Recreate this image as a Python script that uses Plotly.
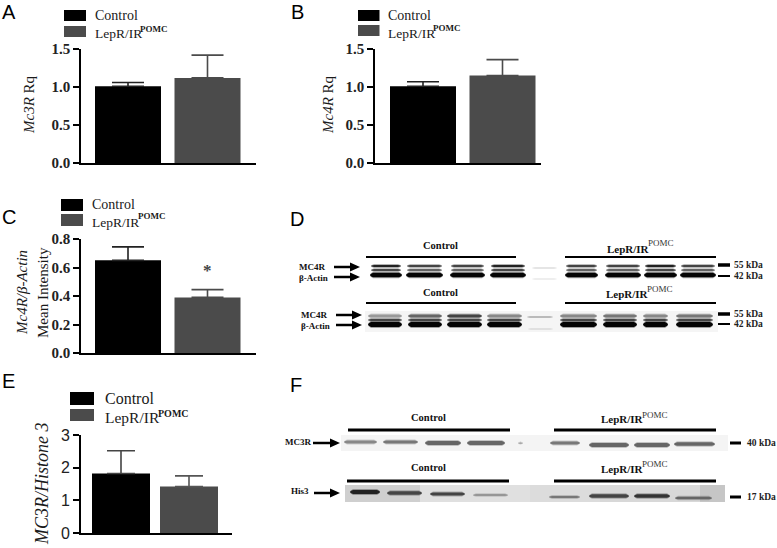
import plotly.graph_objects as go

W, H = 777, 548

groups = ['Control', 'LepR/IR POMC']
mc3r_rq = [1.01, 1.12]
mc3r_err = [0.05, 0.30]
mc4r_rq = [1.01, 1.15]
mc4r_err = [0.06, 0.21]
mc4r_actin = [0.65, 0.39]
mc4r_actin_err = [0.095, 0.055]
mc3r_histone = [1.82, 1.42]
mc3r_histone_err = [0.70, 0.33]

SERIF = 'Liberation Serif'
SANS = 'Liberation Sans'
BAR_COLORS = ['#000000', '#4b4b4b']

fig = go.Figure()
shapes = []
notes = []


def px(x):
    return x / W


def py(y):
    return 1 - y / H


def txt(x, y, text, size, family=SERIF, color='#1a1a1a', anchor='left', angle=0):
    # annotations sit about 2px right of the x they are given when left anchored
    if anchor == 'left':
        x -= 2
    notes.append(dict(x=px(x), y=py(y), xref='paper', yref='paper', text=text, showarrow=False,
                      xanchor=anchor, yanchor='middle', textangle=angle,
                      font=dict(family=family, size=size, color=color)))


def rect(x0, y0, x1, y1, color):
    shapes.append(dict(type='rect', xref='paper', yref='paper', x0=px(x0), x1=px(x1), y0=py(y0), y1=py(y1),
                       fillcolor=color, line=dict(width=0), layer='below'))


def band(x0, x1, y, h, color, soft=True):
    # rounded western blot band, with a soft edge below it
    layers = [(h + 2, 0.35), (h, 1)] if soft else [(h, 1)]
    for hh, op in layers:
        t, b = py(y - hh / 2), py(y + hh / 2)
        c = px(3)
        m = py(y)
        path = (f'M {px(x0) + c},{t} L {px(x1) - c},{t} Q {px(x1) + c},{m} {px(x1) - c},{b} '
                f'L {px(x0) + c},{b} Q {px(x0) - c},{m} {px(x0) + c},{t} Z')
        shapes.append(dict(type='path', xref='paper', yref='paper', path=path, fillcolor=color,
                           opacity=op, line=dict(width=0), layer='below'))


def hline(x0, x1, y, width, color='#000'):
    shapes.append(dict(type='line', xref='paper', yref='paper', x0=px(x0), x1=px(x1), y0=py(y), y1=py(y),
                       line=dict(color=color, width=width)))


def arrow(x0, x1, y):
    hline(x0, x1 - 8, y, 2.5)
    path = f'M {px(x1 - 10)},{py(y - 4.5)} L {px(x1)},{py(y)} L {px(x1 - 10)},{py(y + 4.5)} Z'
    shapes.append(dict(type='path', xref='paper', yref='paper', path=path, fillcolor='#000', line=dict(width=0)))


def add_panel(n, values, errs, x_box, y_box, y_max, dtick, bar_c, bar_step, bar_w, tick_font, fmt, err_colors, cap):
    xname, yname = f'xaxis{n}', f'yaxis{n}'
    # one trace per bar so each whisker can take the colour of its own bar
    for i, g in enumerate(groups):
        fig.add_trace(go.Bar(x=[g], y=[values[i]], xaxis=f'x{n}', yaxis=f'y{n}', width=bar_w / bar_step,
                             marker=dict(color=BAR_COLORS[i], line=dict(width=0)),
                             error_y=dict(type='data', array=[errs[i]], symmetric=False, arrayminus=[0],
                                          color=err_colors[i], thickness=1.6, width=cap),
                             showlegend=False))
    left = (x_box[0] - bar_c) / bar_step
    right = (x_box[1] - bar_c) / bar_step
    fig.update_layout(**{
        xname: dict(domain=[px(x_box[0]), px(x_box[1])], range=[left, right], anchor=f'y{n}', showticklabels=False,
                    type='category', categoryorder='array', categoryarray=groups,
                    ticks='', showgrid=False, zeroline=False, showline=True, linecolor='#000', linewidth=1.6),
        yname: dict(domain=[py(y_box[1]), py(y_box[0])], range=[0, y_max], anchor=f'x{n}', dtick=dtick, tick0=0,
                    tickformat=fmt, ticks='outside', ticklen=6, tickwidth=1.6, tickcolor='#000',
                    showgrid=False, zeroline=False, showline=True, linecolor='#000', linewidth=1.6,
                    tickfont=tick_font),
    })


def legend(x0, x1, tx, y1a, y1b, y2a, y2b, size, lep_size, lep_y, sup_x, sup_y, sup_size):
    rect(x0, y1a, x1, y1b, BAR_COLORS[0])
    rect(x0, y2a, x1, y2b, BAR_COLORS[1])
    txt(tx, (y1a + y1b) / 2, 'Control', size)
    txt(tx, lep_y, 'LepR/IR', lep_size)
    txt(sup_x, sup_y, '<b>POMC</b>', sup_size)


serif_ticks = dict(family=SERIF, size=15, color='#222', weight=700)
sans_ticks = dict(family=SANS, size=16, color='#222')
dark_err = ['#222', '#4b4b4b']

add_panel(1, mc3r_rq, mc3r_err, (81, 256), (49, 163), 1.5, 0.5, 128, 79.5, 66, serif_ticks, '.1f', dark_err, 16)
add_panel(2, mc4r_rq, mc4r_err, (375, 541), (49, 163), 1.5, 0.5, 423, 79.5, 66, serif_ticks, '.1f', dark_err, 16)
add_panel(3, mc4r_actin, mc4r_actin_err, (81, 256), (239, 353), 0.8, 0.2, 128, 79.5, 66, serif_ticks, '.1f', dark_err, 16)
add_panel(4, mc3r_histone, mc3r_histone_err, (81, 232), (435, 533), 3, 1, 121, 68, 58, sans_ticks, 'd', ['#444', '#555'], 14)

legend(64, 86, 95, 10, 21, 26, 37, 14, 13.5, 33, 140, 29, 9)
legend(358, 379.5, 388, 10, 21, 25, 36, 14, 13.5, 33, 433, 28, 9)
legend(61, 83, 92, 199, 211, 214, 226, 14, 13.5, 222, 138, 216, 9)
legend(70, 94, 105, 392, 405, 409, 421, 16, 15.5, 417, 158, 413, 10)

txt(29, 105, '<i>Mc3R</i> Rq', 15, anchor='center', angle=-90)
txt(328, 105, '<i>Mc4R</i> Rq', 15, anchor='center', angle=-90)
txt(22, 293, '<i>Mc4R/β-Actin</i>', 15, anchor='center', angle=-90)
txt(43, 293, 'Mean Intensity', 15, anchor='center', angle=-90)
txt(42, 484, '<i>MC3R/Histone 3</i>', 18, anchor='center', angle=-90)
txt(207, 270, '<b>*</b>', 17, anchor='center', color='#444')

for letter, x, y in [('A', 2, 12), ('B', 291, 12), ('C', 2, 217), ('D', 290, 219), ('E', 2, 381), ('F', 290, 385)]:
    txt(x, y, letter, 20, family=SANS, color='#000')


def lep_label(x, y, sup_y):
    txt(x, y, '<b>LepR/IR</b>', 11, color='#111')
    txt(x + 41, sup_y, 'POMC', 9, color='#333')


# panel D blots
for label_y, line_y in [(246, 257), (292, 303)]:
    txt(440, label_y, '<b>Control</b>', 10.5, anchor='center', color='#111')
    hline(366, 516, line_y, 2)
    hline(565, 716, line_y, 2)
lep_label(607, 249, 243)
lep_label(606, 294, 289)

rect(365, 311, 718, 332, '#f5f5f5')

top_lanes = [(371, 401), (407, 442), (451, 484), (491, 525), (566, 597), (606, 640), (645, 676), (681, 715)]
for i, (a, b) in enumerate(top_lanes):
    up = '#222' if i in (0, 3, 6) else '#444'
    band(a, b, 266, 2, up)
    band(a, b, 270, 1.6, up)
    band(a - 1, b + 1, 275, 4.5, '#050505')

low_lanes = [(368, 402), (408, 442), (447, 482), (487, 522), (560, 597), (603, 637), (643, 668), (676, 713)]
low_up = ['#999', '#666', '#444', '#888', '#888', '#777', '#888', '#777']
for (a, b), c in zip(low_lanes, low_up):
    band(a, b, 316, 3, c)
    band(a, b, 320, 2, '#444')
    band(a, b, 324.5, 5, '#050505')

band(532, 557, 268, 1, '#ccc', soft=False)
band(532, 557, 279, 1, '#ddd', soft=False)
band(527, 553, 317, 2, '#bbb', soft=False)
band(528, 553, 329, 1, '#ccc', soft=False)

for y, t in [(267, 'MC4R'), (278, 'β-Actin')]:
    txt(299, y, f'<b>{t}</b>', 9, color='#111')
for y, t in [(315, 'MC4R'), (326, 'β-Actin')]:
    txt(301, y, f'<b>{t}</b>', 9, color='#111')
for y in (267, 277):
    arrow(334, 360, y)
for y in (315, 325):
    arrow(336, 362, y)
for y, w, t in [(265, 3.5, '55 kDa'), (276, 2, '42 kDa'), (314, 3.5, '55 kDa'), (324, 2, '42 kDa')]:
    hline(718, 730, y, w)
    txt(734, y, f'<b>{t}</b>', 9.5, color='#222')

# panel F blots
for label_y, line_y, shift in [(417, 430, 1), (467, 481, 0)]:
    txt(428, label_y, '<b>Control</b>', 10.5, anchor='center', color='#111')
    hline(347 + shift, 509 + shift, line_y, 3)
    hline(554, 716, line_y, 3)
lep_label(601, 419, 415)
lep_label(601, 469, 464)

rect(341, 435, 728, 451, '#f4f4f4')
for a, b, c in [(345, 420, '#cfcfcf'), (420, 530, '#e0e0e0'), (530, 600, '#dcdcdc'), (600, 700, '#d8d8d8'),
                (700, 725, '#c6c6c6')]:
    rect(a, 485, b, 502, c)

for a, b, y, h, c in [(344, 377, 442, 3, '#888'), (383, 418, 442, 3, '#777'), (425, 461, 443, 4, '#666'),
                      (467, 505, 443, 4, '#666'), (518, 523, 443, 1.5, '#999'), (550, 580, 443, 3, '#777'),
                      (589, 629, 445, 4, '#666'), (634, 670, 445, 4, '#666'), (674, 715, 444, 3.5, '#666')]:
    band(a, b, y, h, c)

for a, b, y, h, c in [(350, 380, 492, 4, '#222'), (387, 422, 493, 3.5, '#444'), (430, 465, 494, 3, '#444'),
                      (473, 508, 495, 1.5, '#888'), (549, 580, 497, 2, '#777'), (589, 629, 496, 3.5, '#444'),
                      (634, 670, 496, 3.5, '#333'), (675, 712, 498, 2.5, '#666')]:
    band(a, b, y, h, c)

txt(285, 442, '<b>MC3R</b>', 9, color='#111')
txt(291, 491, '<b>His3</b>', 9, color='#111')
arrow(313, 340, 443)
arrow(314, 340, 493)
for y, t in [(443, '40 kDa'), (497, '17 kDa')]:
    hline(730, 741, y, 3)
    txt(747, y - 0.5, f'<b>{t}</b>', 9.5, color='#222')

fig.update_layout(width=W, height=H, margin=dict(l=0, r=0, t=0, b=0, autoexpand=False), plot_bgcolor='white',
                  paper_bgcolor='white', showlegend=False, barmode='overlay', shapes=shapes, annotations=notes)

fig.write_html("out.html", config=dict(displayModeBar=False), post_script="document.body.style.margin='0';")
